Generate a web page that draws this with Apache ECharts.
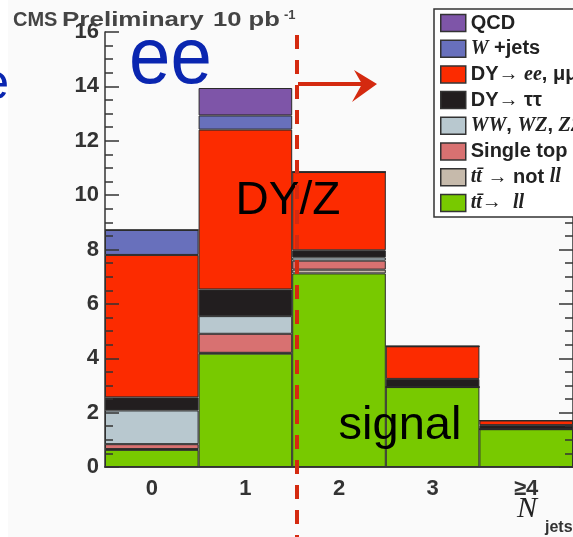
<!DOCTYPE html>
<html>
<head>
<meta charset="utf-8">
<script src="https://cdn.jsdelivr.net/npm/echarts@6/dist/echarts.min.js"></script>
<style>html,body{margin:0;padding:0;background:#fafafa;}#c{width:573px;height:537px;}</style>
</head>
<body>
<div id="c"></div>
<script>
// ---- data (events per jet-multiplicity bin) ----
const categories = ['0', '1', '2', '3', '≥4'];
const ttll     = [0.63, 4.17, 7.12, 2.94, 1.39];
const ttnotll  = [0.03, 0.03, 0.14, 0, 0];
const singleTop= [0.18, 0.70, 0.33, 0, 0];
const diboson  = [1.24, 0.65, 0.12, 0, 0];
const dytautau = [0.48, 0.98, 0.26, 0.30, 0.15];
const dyeemm   = [5.24, 5.88, 2.88, 1.20, 0.17];
const wjets    = [0.92, 0.52, 0, 0, 0];
const qcd      = [0, 1.01, 0, 0, 0];
const yTicks = { min: 0, max: 16, interval: 2 };

const names = ['QCD', 'W+jets', 'DY→ee,μμ', 'DY→ττ', 'WW,WZ,ZZ', 'Single top', 'tt→not ll', 'tt→ll'];
const legendRich = {
  'QCD': '{a|QCD}',
  'W+jets': '{i|W}{a| +jets}',
  'DY→ee,μμ': '{a|DY→ }{i|ee}{a|, μμ}',
  'DY→ττ': '{a|DY→ ττ}',
  'WW,WZ,ZZ': '{i|WW}{a|, }{i|WZ}{a|, }{i|ZZ}',
  'Single top': '{a|Single top}',
  'tt→not ll': '{i|tt̄}{a| → not }{i|ll}',
  'tt→ll': '{i|tt̄}{a|→  }{i|ll}'
};
const colors = {
  'QCD': '#7e55a8', 'W+jets': '#6870bc', 'DY→ee,μμ': '#fc2b00', 'DY→ττ': '#221e1f',
  'WW,WZ,ZZ': '#b8c8cf', 'Single top': '#d87171', 'tt→not ll': '#c6baab', 'tt→ll': '#78c900'
};
const stackOrder = [
  ['tt→ll', ttll], ['tt→not ll', ttnotll], ['Single top', singleTop], ['WW,WZ,ZZ', diboson],
  ['DY→ττ', dytautau], ['DY→ee,μμ', dyeemm], ['W+jets', wjets], ['QCD', qcd]
];

const chart = echarts.init(document.getElementById('c'), null, { renderer: 'canvas' });
const axisCol = '#333';
const series = stackOrder.map(([n, d]) => ({
  name: n, type: 'bar', stack: 'all', data: d,
  barWidth: '100%', barCategoryGap: '0%',
  itemStyle: { color: colors[n], borderColor: '#2a2a2a', borderWidth: 1 },
  emphasis: { disabled: true }
}));

const option = {
  animation: false,
  backgroundColor: '#fafafa',
  grid: { left: 105, top: 32, width: 475, height: 435 },
  xAxis: [
    { type: 'category', data: categories, position: 'bottom', z: 5,
      axisLine: { lineStyle: { color: axisCol, width: 1.5 } },
      axisTick: { inside: true, length: 12, lineStyle: { color: axisCol, width: 1.5 } },
      axisLabel: { margin: 11, fontSize: 22, fontWeight: 'bold', color: '#333', fontFamily: 'Liberation Sans' } },
    { type: 'category', data: categories, position: 'top', z: 5,
      axisLine: { lineStyle: { color: axisCol, width: 1.5 } },
      axisTick: { inside: true, length: 13, lineStyle: { color: axisCol, width: 1.5 } },
      axisLabel: { show: false } }
  ],
  yAxis: [
    { type: 'value', min: yTicks.min, max: yTicks.max, interval: yTicks.interval, position: 'left', z: 5,
      axisLine: { show: true, lineStyle: { color: axisCol, width: 1.5 } },
      axisTick: { show: true, inside: true, length: 14, lineStyle: { color: axisCol, width: 1.5 } },
      minorTick: { show: true, splitNumber: 4, length: 8, lineStyle: { color: axisCol, width: 1.5 } },
      splitLine: { show: false },
      axisLabel: { margin: 6, fontSize: 22, fontWeight: 'bold', color: '#333', fontFamily: 'Liberation Sans' } },
    { type: 'value', min: yTicks.min, max: yTicks.max, interval: yTicks.interval, position: 'right', z: 5,
      axisLine: { show: true, lineStyle: { color: axisCol, width: 1.5 } },
      axisTick: { show: true, inside: true, length: 14, lineStyle: { color: axisCol, width: 1.5 } },
      minorTick: { show: true, splitNumber: 4, length: 8, lineStyle: { color: axisCol, width: 1.5 } },
      splitLine: { show: false }, axisLabel: { show: false } }
  ],
  legend: {
    orient: 'vertical', left: 434, top: 9, padding: [4, 60, 4, 6], z: 10,
    itemWidth: 25, itemHeight: 17, itemGap: 5.7,
    backgroundColor: '#ffffff', borderColor: '#333', borderWidth: 1.5,
    selectedMode: false, icon: 'rect',
    itemStyle: { borderColor: '#333', borderWidth: 1.5 },
    data: names,
    formatter: (n) => legendRich[n],
    textStyle: {
      color: '#222', lineHeight: 17,
      rich: {
        a: { fontFamily: 'Liberation Sans', fontSize: 20, fontWeight: 'bold', color: '#222', lineHeight: 17 },
        i: { fontFamily: 'Liberation Serif', fontStyle: 'italic', fontSize: 20, fontWeight: 'bold', color: '#222', lineHeight: 17 }
      }
    }
  },
  series: series,
  graphic: [
    { type: 'rect', z: 0, shape: { x: 0, y: 0, width: 8, height: 537 }, style: { fill: '#ffffff' } },
    { type: 'text', x: 13, y: 20, z: 100, style: { text: 'CMS', fill: '#444', font: 'bold 20px "Liberation Sans"', textVerticalAlign: 'middle' } },
    { type: 'text', x: 62, y: 20, z: 100, scaleX: 1.3, style: { text: 'Preliminary', fill: '#444', font: 'bold 20px "Liberation Sans"', textVerticalAlign: 'middle' } },
    { type: 'text', x: 213, y: 20, z: 100, scaleX: 1.28, style: { text: '10 pb', fill: '#444', font: 'bold 20px "Liberation Sans"', textVerticalAlign: 'middle' } },
    { type: 'text', x: 284, y: 15, z: 100, style: { text: '-1', fill: '#444', font: 'bold 13px "Liberation Sans"', textVerticalAlign: 'middle' } },
    { type: 'text', x: 129, y: 61, z: 100, scaleX: 0.93, style: { text: 'ee', fill: '#0a26b0', font: '80px "Liberation Sans"', textVerticalAlign: 'middle' } },
    { type: 'text', x: 9, y: 85, z: 100, style: { text: 'e', fill: '#0a26b0', font: '50px "Liberation Sans"', textAlign: 'right', textVerticalAlign: 'middle' } },
    { type: 'text', x: 288, y: 201, z: 100, style: { text: 'DY/Z', fill: '#000', font: '46px "Liberation Sans"', textAlign: 'center', textVerticalAlign: 'middle' } },
    { type: 'text', x: 400, y: 426, z: 100, style: { text: 'signal', fill: '#000', font: '47px "Liberation Sans"', textAlign: 'center', textVerticalAlign: 'middle' } },
    { type: 'line', z: 110, shape: { x1: 297, y1: 35, x2: 297, y2: 537 }, style: { stroke: '#d42a10', lineWidth: 4, lineDash: [14, 11] } },
    { type: 'line', z: 110, shape: { x1: 298, y1: 84, x2: 362, y2: 84 }, style: { stroke: '#d42a10', lineWidth: 4 } },
    { type: 'polygon', z: 110, shape: { points: [[377, 84], [354, 70], [362, 84], [352, 102]] }, style: { fill: '#d42a10' } },
    { type: 'text', x: 517, y: 509, z: 100, style: { text: 'N', fill: '#222', font: 'italic 30px "Liberation Serif"', textVerticalAlign: 'middle' } },
    { type: 'text', x: 545, y: 528, z: 100, style: { text: 'jets', fill: '#333', font: 'bold 16px "Liberation Sans"', textVerticalAlign: 'middle' } }
  ]
};
chart.setOption(option);
</script>
</body>
</html>
